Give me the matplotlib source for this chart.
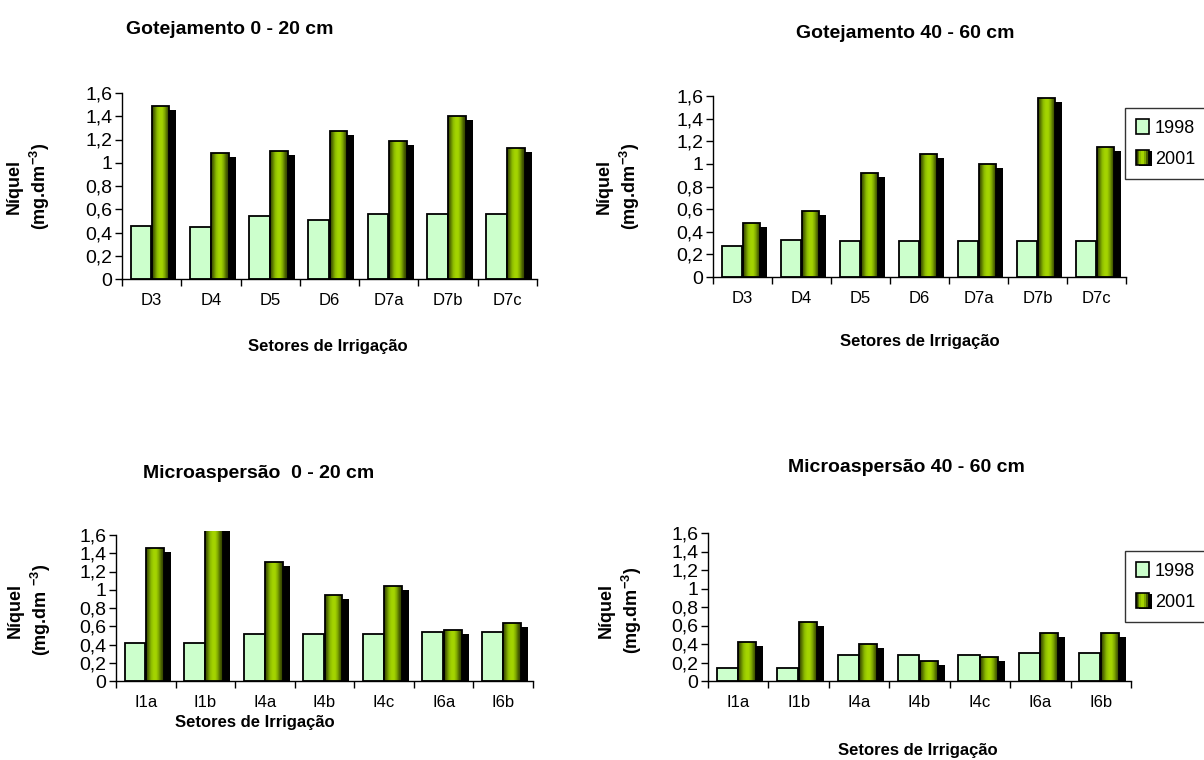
import numpy as np
import matplotlib
matplotlib.use("Agg")
import matplotlib.pyplot as plt
from matplotlib.colors import LinearSegmentedColormap
from matplotlib.transforms import ScaledTranslation
from matplotlib.patches import Rectangle
from matplotlib.legend_handler import HandlerBase
from matplotlib.ticker import FixedLocator

plt.rcParams['font.family'] = ['Liberation Sans', 'DejaVu Sans']
plt.rcParams['mathtext.fontset'] = 'custom'
plt.rcParams['mathtext.rm'] = 'Liberation Sans:bold'
plt.rcParams['mathtext.default'] = 'rm'

# ---------------- data ----------------
cats_gote = ["D3", "D4", "D5", "D6", "D7a", "D7b", "D7c"]
cats_micro = ["I1a", "I1b", "I4a", "I4b", "I4c", "I6a", "I6b"]

gote_0_20_1998 = [0.46, 0.45, 0.54, 0.51, 0.56, 0.56, 0.56]
gote_0_20_2001 = [1.49, 1.08, 1.10, 1.27, 1.19, 1.40, 1.13]
gote_40_60_1998 = [0.27, 0.33, 0.32, 0.32, 0.32, 0.32, 0.32]
gote_40_60_2001 = [0.48, 0.58, 0.92, 1.09, 1.00, 1.58, 1.15]
micro_0_20_1998 = [0.42, 0.42, 0.52, 0.52, 0.52, 0.54, 0.54]
micro_0_20_2001 = [1.46, 1.70, 1.30, 0.94, 1.04, 0.56, 0.64]
micro_40_60_1998 = [0.14, 0.14, 0.28, 0.28, 0.28, 0.30, 0.30]
micro_40_60_2001 = [0.42, 0.64, 0.40, 0.22, 0.26, 0.52, 0.52]

years = ["1998", "2001"]
yticks = [0, 0.2, 0.4, 0.6, 0.8, 1.0, 1.2, 1.4, 1.6]
ytick_labels = ["0", "0,2", "0,4", "0,6", "0,8", "1", "1,2", "1,4", "1,6"]

titles = ["Gotejamento 0 - 20 cm", "Gotejamento 40 - 60 cm",
          "Microaspersão  0 - 20 cm", "Microaspersão 40 - 60 cm"]
xlabel = "Setores de Irrigação"
ylabels = ["Níquel\n(mg.dm$^{-3}$)", "Níquel\n(mg.dm$^{-3}$)",
           "Níquel\n(mg.dm $^{-3}$)", "Níquel\n(mg.dm$^{-3}$)"]

# ---------------- style ----------------
W, H = 1204, 760
DPI = 100
C1998 = "#CCFFCC"
grad_stops = ["#2E3A00", "#5C7A00", "#8CBB00", "#A4D400", "#A4D400", "#7FA800", "#4A6100", "#2E3A00"]
cmap = LinearSegmentedColormap.from_list("g2001", grad_stops)
YTOP = 1.64

fig = plt.figure(figsize=(W / DPI, H / DPI), dpi=DPI)


def px_axes(left, right, y0, y16):
    ppu = (y0 - y16) / 1.6
    top = y0 - ppu * YTOP
    return fig.add_axes([left / W, 1 - y0 / H, (right - left) / W, (y0 - top) / H])


def draw_panel(ax, cats, v98, v01):
    x = np.arange(len(cats))
    ax.bar(x - 0.18, v98, width=0.35, color=C1998, edgecolor="black",
           linewidth=1.3, zorder=2)
    off = ScaledTranslation(7.0 / DPI, -4.0 / DPI, fig.dpi_scale_trans)
    ax.bar(x + 0.15, v01, width=0.30, color="black", edgecolor="black",
           linewidth=0, zorder=1, transform=ax.transData + off)
    bars = ax.bar(x + 0.15, v01, width=0.30, facecolor="none",
                  edgecolor="black", linewidth=1.3, zorder=4)
    grad = np.linspace(0, 1, 64)[np.newaxis, :]
    for b in bars:
        x0, w, h = b.get_x(), b.get_width(), b.get_height()
        im = ax.imshow(grad, cmap=cmap, extent=(x0, x0 + w, 0, h),
                       aspect="auto", zorder=3, interpolation="bilinear")
        im.set_clip_path(b.get_path(), b.get_transform())
    ax.set_xlim(-0.5, len(cats) - 0.5)
    ax.set_ylim(0, YTOP)
    ax.set_yticks(yticks)
    ax.set_yticklabels(ytick_labels)
    ax.set_xticks(x)
    ax.set_xticklabels(cats)
    ax.xaxis.set_minor_locator(FixedLocator(np.arange(len(cats) + 1) - 0.5))
    ax.tick_params(axis="x", which="major", length=0, pad=10, labelsize=12)
    ax.tick_params(axis="x", which="minor", length=5, width=1, direction="out")
    ax.tick_params(axis="y", length=5, width=1, direction="out", pad=2, labelsize=14)
    for s in ["top", "right"]:
        ax.spines[s].set_visible(False)
    ax.spines["left"].set_bounds(0, 1.6)
    for s in ["left", "bottom"]:
        ax.spines[s].set_linewidth(1.0)


class GradHandler(HandlerBase):
    def create_artists(self, legend, orig_handle, xdescent, ydescent,
                       width, height, fontsize, trans):
        x0, y0 = -xdescent, -ydescent
        arts = []
        arts.append(Rectangle((x0 + 2, y0 - 1), width, height, facecolor="black",
                              edgecolor="none", transform=trans))
        n = len(grad_stops)
        for k, c in enumerate(grad_stops):
            arts.append(Rectangle((x0 + k * width / n, y0), width / n, height,
                                  facecolor=c, edgecolor="none", transform=trans))
        arts.append(Rectangle((x0, y0), width, height, fill=False,
                              edgecolor="black", linewidth=1.2, transform=trans))
        return arts


def add_legend(x, y):
    h1 = Rectangle((0, 0), 1, 1, facecolor=C1998, edgecolor="black", linewidth=1.2)
    h2 = Rectangle((0, 0), 1, 1, facecolor="#99CC00")
    leg = fig.legend([h1, h2], years, loc="upper left",
                     bbox_to_anchor=(x / W, 1 - y / H), frameon=True,
                     fancybox=False, edgecolor="black", fontsize=13,
                     handlelength=0.75, handleheight=0.9, handletextpad=0.3,
                     labelspacing=0.75, borderpad=0.6, borderaxespad=0,
                     handler_map={h2: GradHandler()})
    leg.get_frame().set_linewidth(1.0)


panels = [
    dict(ax=(122, 537, 279, 93), cats=cats_gote, v98=gote_0_20_1998, v01=gote_0_20_2001,
         title=(230, 30), xl=(328, 346), yl=(29, 186)),
    dict(ax=(713, 1126, 277, 96), cats=cats_gote, v98=gote_40_60_1998, v01=gote_40_60_2001,
         title=(905, 34), xl=(920, 342), yl=(619, 186)),
    dict(ax=(116, 533, 681, 535), cats=cats_micro, v98=micro_0_20_1998, v01=micro_0_20_2001,
         title=(259, 473), xl=(255, 723), yl=(30, 610)),
    dict(ax=(708, 1131, 681, 533), cats=cats_micro, v98=micro_40_60_1998, v01=micro_40_60_2001,
         title=(906, 468), xl=(918, 750), yl=(621, 610)),
]

for i, p in enumerate(panels):
    ax = px_axes(*p["ax"])
    draw_panel(ax, p["cats"], p["v98"], p["v01"])
    fig.text(p["title"][0] / W, 1 - p["title"][1] / H, titles[i], ha="center",
             va="center", fontsize=14, fontweight="bold")
    fig.text(p["xl"][0] / W, 1 - p["xl"][1] / H, xlabel, ha="center",
             va="center", fontsize=12, fontweight="bold")
    fig.text(p["yl"][0] / W, 1 - p["yl"][1] / H, ylabels[i], ha="center",
             va="center", rotation=90, fontsize=13, fontweight="bold",
             multialignment="center", linespacing=1.25)

add_legend(1125, 108)
add_legend(1125, 551)

fig.savefig("out.png", dpi=DPI)
